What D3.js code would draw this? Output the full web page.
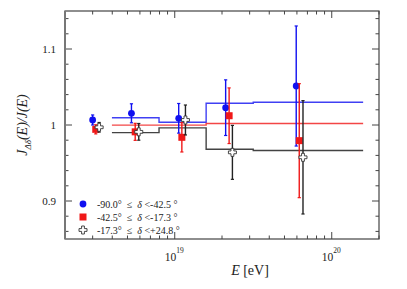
<!DOCTYPE html>
<html>
<head>
<meta charset="utf-8">
<script src="https://cdn.jsdelivr.net/npm/d3@7"></script>
<style>
  body{ margin:0; background:#fff }
</style>
</head>
<body>
<svg id="chart" width="407" height="289" font-family="Liberation Serif, Times New Roman, DejaVu Serif, serif"></svg>
<script>
// series labels
const seriesNames = ['south', 'middle', 'north']
const legendLabels = [
  ['-90.0°', '<-42.5 °'],
  ['-42.5°', '<-17.3 °'],
  ['-17.3°', '<+24.8 °']
]
const seriesColors = ['#1010f0', '#f01818', '#222']

// measured points: energy (eV), ratio, error
const southE   = [3.0e18, 5.3e18, 1.06e19, 2.11e19, 5.94e19]
const southVal = [1.0066, 1.0154, 1.0088, 1.0228, 1.0513]
const southErr = [0.0066, 0.0125, 0.0195, 0.0366, 0.0790]

const middleE   = [3.14e18, 5.6e18, 1.11e19, 2.22e19, 6.21e19]
const middleVal = [0.9943, 0.9910, 0.9838, 1.0122, 0.9794]
const middleErr = [0.0060, 0.0112, 0.0193, 0.0366, 0.0750]

const northE   = [3.3e18, 5.9e18, 1.17e19, 2.33e19, 6.56e19]
const northVal = [0.9970, 0.9910, 1.0066, 0.9640, 0.9575]
const northErr = [0.0063, 0.0110, 0.0197, 0.0355, 0.0746]

// expectation steps: bin edges in log10(E)
const binEdges = [18.6, 18.9, 19.2, 19.5, 20.2]
const southStep  = [1.0096, 1.0036, 1.0286, 1.0299]
const middleStep = [0.9998, 0.9998, 1.0019, 1.0019]
const northStep  = [0.9900, 0.9962, 0.9680, 0.9665]

const yTicks = [0.9, 1, 1.1]
const xTicks = [19, 20]

const svg = d3.select('#chart')
const M = { l:65, r:379, t:11, b:239 }

const x = d3.scaleLog().domain([2e18, 2e20]).range([M.l, M.r])
const y = d3.scaleLinear().domain([0.85, 1.15]).range([M.b, M.t])

// frame with inward ticks
const g = svg.append('g')
const minorX = []
for(let d = 18; d <= 20; d++) for(let k = 1; k < 10; k++){
  const v = k * Math.pow(10, d)
  if(v >= 2e18 && v <= 2e20) minorX.push(v)
}
const minorY = d3.range(0.86, 1.15, 0.02).map(v => +v.toFixed(2))

function tickLen(isMajor){ return isMajor ? 7 : 3.5 }
const axisColor = '#444'

minorX.forEach(v => {
  const major = Math.abs(Math.log10(v) - Math.round(Math.log10(v))) < 1e-9
  const px = x(v)
  g.append('line').attr('x1', px).attr('x2', px).attr('y1', M.b).attr('y2', M.b - tickLen(major))
    .attr('stroke', axisColor).attr('stroke-width', 1)
  g.append('line').attr('x1', px).attr('x2', px).attr('y1', M.t).attr('y2', M.t + tickLen(major))
    .attr('stroke', axisColor).attr('stroke-width', 1)
})
minorY.forEach(v => {
  const major = Math.abs(v*10 - Math.round(v*10)) < 1e-6
  const py = y(v)
  g.append('line').attr('x1', M.l).attr('x2', M.l + tickLen(major)).attr('y1', py).attr('y2', py)
    .attr('stroke', axisColor).attr('stroke-width', 1)
  g.append('line').attr('x1', M.r).attr('x2', M.r - tickLen(major)).attr('y1', py).attr('y2', py)
    .attr('stroke', axisColor).attr('stroke-width', 1)
})
g.append('rect').attr('x', M.l).attr('y', M.t).attr('width', M.r - M.l).attr('height', M.b - M.t)
  .attr('fill', 'none').attr('stroke', axisColor).attr('stroke-width', 1.2)
g.append('line').attr('x1', M.l).attr('x2', M.l).attr('y1', M.t).attr('y2', M.b)
  .attr('stroke', '#777').attr('stroke-width', 2)

// tick labels
yTicks.forEach(v => {
  g.append('text').attr('x', 56).attr('y', y(v) + 4).attr('text-anchor', 'end')
    .attr('font-size', 11).attr('fill', '#222').text(v === 1 ? '1' : String(v))
})
xTicks.forEach(p => {
  const t = g.append('text').attr('x', x(Math.pow(10, p)) - 10).attr('y', 261).attr('font-size', 11.5).attr('fill', '#222')
  t.append('tspan').text('10')
  t.append('tspan').attr('dy', -8).attr('font-size', 7.5).text(String(p))
})

// axis titles
const xt = svg.append('text').attr('x', 250).attr('y', 275).attr('text-anchor', 'middle').attr('font-size', 14).attr('fill', '#222')
xt.append('tspan').attr('font-style', 'italic').text('E')
xt.append('tspan').text(' [eV]')

const yt = svg.append('text').attr('transform', 'translate(27,125) rotate(-90)')
  .attr('text-anchor', 'middle').attr('font-size', 14).attr('font-style', 'italic').attr('fill', '#222')
yt.append('tspan').text('J')
yt.append('tspan').attr('dy', 4).attr('font-size', 9).text('Δδ')
yt.append('tspan').attr('dy', -4).text('(E)/J(E)')

// step lines
const steps = [southStep, middleStep, northStep]
steps.forEach((vals, i) => {
  const pts = []
  vals.forEach((v, j) => {
    pts.push([x(Math.pow(10, binEdges[j])), y(v)])
    pts.push([x(Math.pow(10, binEdges[j+1])), y(v)])
  })
  svg.append('path').attr('d', d3.line()(pts)).attr('fill', 'none')
    .attr('stroke', seriesColors[i]).attr('stroke-width', 1.4).attr('opacity', i === 2 ? 0.85 : 0.8)
})

// error bars + markers
const series = [
  { E: southE, v: southVal, e: southErr },
  { E: middleE, v: middleVal, e: middleErr },
  { E: northE, v: northVal, e: northErr }
]
const crossPath = 'M-1.4,-4 H1.4 V-1.4 H4 V1.4 H1.4 V4 H-1.4 V1.4 H-4 V-1.4 H-1.4 Z'

function drawMarker(sel, i, cx, cy){
  if(i === 0) sel.append('circle').attr('cx', cx).attr('cy', cy).attr('r', 3.4).attr('fill', seriesColors[0])
  else if(i === 1) sel.append('rect').attr('x', cx - 3.5).attr('y', cy - 3.5).attr('width', 7).attr('height', 7).attr('fill', seriesColors[1])
  else sel.append('path').attr('d', crossPath).attr('transform', `translate(${cx},${cy})`)
    .attr('fill', '#fff').attr('stroke', '#333').attr('stroke-width', 0.9)
}

series.forEach((s, i) => {
  const gs = svg.append('g')
  s.E.forEach((E, j) => {
    const px = x(E), y0 = y(s.v[j] - s.e[j]), y1 = y(s.v[j] + s.e[j])
    const c = seriesColors[i]
    gs.append('line').attr('x1', px).attr('x2', px).attr('y1', y0).attr('y2', y1).attr('stroke', c).attr('stroke-width', 1.4)
    gs.append('line').attr('x1', px - 1.6).attr('x2', px + 1.6).attr('y1', y0).attr('y2', y0).attr('stroke', c).attr('stroke-width', 1.2)
    gs.append('line').attr('x1', px - 1.6).attr('x2', px + 1.6).attr('y1', y1).attr('y2', y1).attr('stroke', c).attr('stroke-width', 1.2)
    drawMarker(gs, i, px, y(s.v[j]))
  })
})

// legend
const legY = [204, 217, 230]
legendLabels.forEach((lab, i) => {
  const gl = svg.append('g')
  drawMarker(gl, i, 83, legY[i])
  const t = gl.append('text').attr('x', 97).attr('y', legY[i] + 3.5).attr('font-size', 10)
    .attr('fill', '#222').attr('xml:space', 'preserve')
  t.append('tspan').text(lab[0] + '  ≤  ')
  t.append('tspan').attr('font-style', 'italic').text('δ')
  t.append('tspan').text(' ' + lab[1])
})
</script>
</body>
</html>
